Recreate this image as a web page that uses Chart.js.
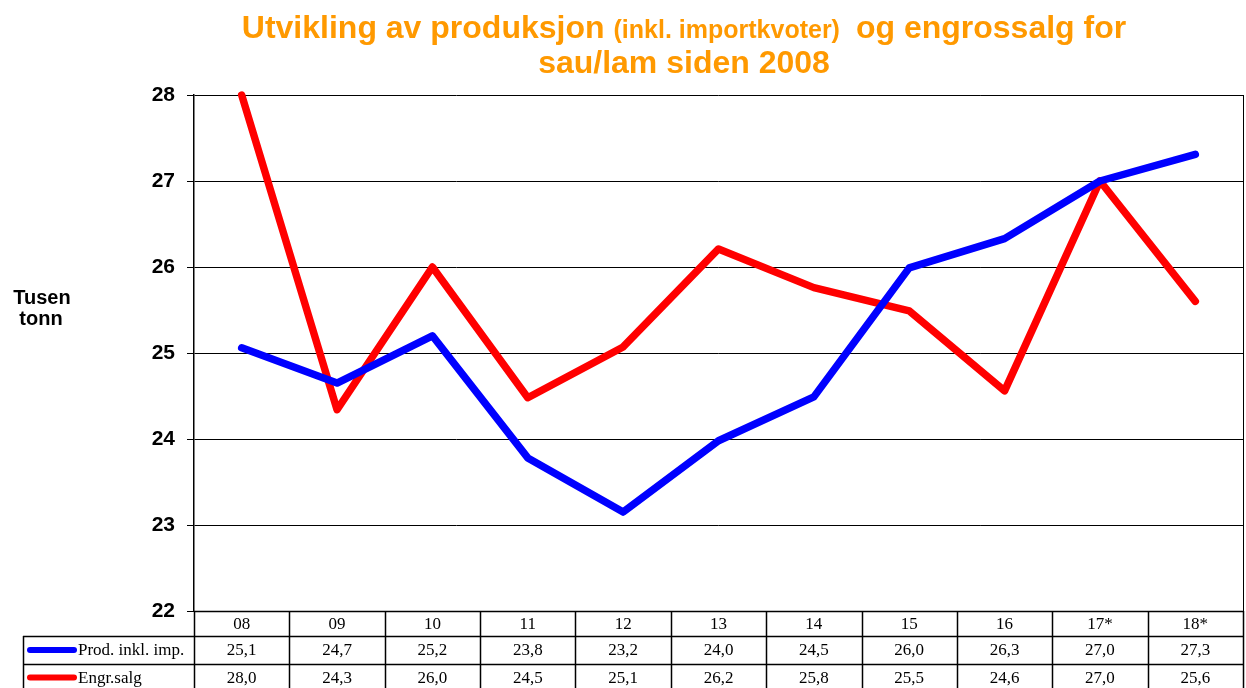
<!DOCTYPE html>
<html>
<head>
<meta charset="utf-8">
<script src="https://cdn.jsdelivr.net/npm/chart.js@4"></script>
<style>
  html, body { margin: 0; padding: 0; background: #fff; }
  #wrap { width: 1246px; height: 688px; position: relative; }
</style>
</head>
<body>
<div id="wrap"><canvas id="chart" width="1246" height="688"></canvas></div>
<script>
// Data
const categories = ['08', '09', '10', '11', '12', '13', '14', '15', '16', '17*', '18*'];
const prodValues = [25.06, 24.65, 25.2, 23.78, 23.15, 23.98, 24.49, 25.99, 26.33, 27.0, 27.31];
const salgValues = [28.0, 24.34, 26.0, 24.48, 25.07, 26.21, 25.76, 25.49, 24.56, 27.0, 25.6];
const prodTable = ['25,1', '24,7', '25,2', '23,8', '23,2', '24,0', '24,5', '26,0', '26,3', '27,0', '27,3'];
const salgTable = ['28,0', '24,3', '26,0', '24,5', '25,1', '26,2', '25,8', '25,5', '24,6', '27,0', '25,6'];
const seriesNames = ['Prod. inkl. imp.', 'Engr.salg'];

const BLUE = '#0000ff';
const RED = '#ff0000';
const ORANGE = '#ff9900';

// Title, axis label and data table
const extrasPlugin = {
    id: 'extras',
    afterDraw(chart) {
        const ctx = chart.ctx;
        const area = chart.chartArea;
        const x = chart.scales.x;
        ctx.save();

        // title (mixed font sizes on line 1)
        ctx.fillStyle = ORANGE;
        ctx.textBaseline = 'alphabetic';
        const big = 'bold 32px "Liberation Sans", Arial, sans-serif';
        const small = 'bold 25px "Liberation Sans", Arial, sans-serif';
        const parts = [['Utvikling av produksjon', big, 9], ['(inkl. importkvoter)', small, 16], ['og engrossalg for', big, 0]];
        let total = 0;
        parts.forEach(p => { ctx.font = p[1]; total += ctx.measureText(p[0]).width + p[2]; });
        let tx = 684 - total / 2;
        ctx.textAlign = 'left';
        parts.forEach(p => {
            ctx.font = p[1];
            ctx.fillText(p[0], tx, 38);
            tx += ctx.measureText(p[0]).width + p[2];
        });
        ctx.font = big;
        ctx.textAlign = 'center';
        ctx.fillText('sau/lam siden 2008', 684, 73);

        // y axis label
        ctx.fillStyle = '#000';
        ctx.font = 'bold 20px "Liberation Sans", Arial, sans-serif';
        ctx.fillText('Tusen', 42, 304);
        ctx.fillText('tonn', 41, 325);

        // right border of plot
        ctx.strokeStyle = '#000';
        ctx.lineWidth = 1;
        ctx.beginPath();
        ctx.moveTo(area.right + 0.5, area.top);
        ctx.lineTo(area.right + 0.5, area.bottom);
        ctx.stroke();

        // data table
        const colW = (area.right - area.left) / categories.length;
        const rows = [area.bottom, area.bottom + 25, area.bottom + 53, area.bottom + 80];
        const tableLeft = 23;
        ctx.lineWidth = 1.5;
        ctx.beginPath();
        for (let i = 0; i <= categories.length; i++) {
            const cx = Math.round(area.left + i * colW) + 0.5;
            ctx.moveTo(cx, rows[0]);
            ctx.lineTo(cx, rows[3]);
        }
        ctx.moveTo(area.left, rows[0] + 0.5);
        ctx.lineTo(area.right, rows[0] + 0.5);
        ctx.moveTo(tableLeft, rows[1] + 0.5);
        ctx.lineTo(area.right, rows[1] + 0.5);
        ctx.moveTo(tableLeft, rows[2] + 0.5);
        ctx.lineTo(area.right, rows[2] + 0.5);
        ctx.moveTo(tableLeft + 0.5, rows[1]);
        ctx.lineTo(tableLeft + 0.5, rows[3]);
        ctx.stroke();

        ctx.font = '17px "Liberation Serif", "Times New Roman", serif';
        ctx.fillStyle = '#000';
        ctx.textAlign = 'center';
        ctx.textBaseline = 'middle';
        categories.forEach((c, i) => {
            const cx = x.getPixelForValue(i);
            ctx.fillText(c, cx, (rows[0] + rows[1]) / 2 + 1);
            ctx.fillText(prodTable[i], cx, (rows[1] + rows[2]) / 2 + 1);
            ctx.fillText(salgTable[i], cx, (rows[2] + rows[3]) / 2 + 1);
        });

        // legend keys in table
        const keys = [[BLUE, (rows[1] + rows[2]) / 2], [RED, (rows[2] + rows[3]) / 2]];
        ctx.lineCap = 'round';
        ctx.lineWidth = 6;
        keys.forEach((k, i) => {
            ctx.strokeStyle = k[0];
            ctx.beginPath();
            ctx.moveTo(30, k[1]);
            ctx.lineTo(74, k[1]);
            ctx.stroke();
            ctx.textAlign = 'left';
            ctx.fillText(seriesNames[i], 78, k[1] + 1);
        });

        ctx.restore();
    }
};

const ctx = document.getElementById('chart').getContext('2d');
const chart = new Chart(ctx, {
    type: 'line',
    data: {
        labels: categories,
        datasets: [{
            label: seriesNames[0],
            data: prodValues,
            borderColor: BLUE,
            backgroundColor: BLUE,
            borderWidth: 7.5,
            pointRadius: 0,
            borderCapStyle: 'round',
            borderJoinStyle: 'round',
            clip: 10
        }, {
            label: seriesNames[1],
            data: salgValues,
            borderColor: RED,
            backgroundColor: RED,
            borderWidth: 7.5,
            pointRadius: 0,
            borderCapStyle: 'round',
            borderJoinStyle: 'round',
            clip: 10
        }]
    },
    options: {
        responsive: false,
        animation: false,
        devicePixelRatio: 1,
        layout: { padding: { top: 95, bottom: 77, left: 0, right: 3 } },
        plugins: {
            legend: { display: false },
            title: { display: false },
            tooltip: { enabled: false }
        },
        scales: {
            x: {
                display: false,
                offset: true
            },
            y: {
                min: 22,
                max: 28,
                ticks: {
                    stepSize: 1,
                    color: '#000',
                    padding: 12,
                    font: { family: '"Liberation Sans", Arial, sans-serif', size: 21, weight: 'bold' }
                },
                grid: { color: '#000', lineWidth: 1, tickLength: 7 },
                border: { color: '#000', width: 1.5 },
                afterFit(scale) { scale.width = 194; }
            }
        }
    },
    plugins: [extrasPlugin]
});
</script>
</body>
</html>
